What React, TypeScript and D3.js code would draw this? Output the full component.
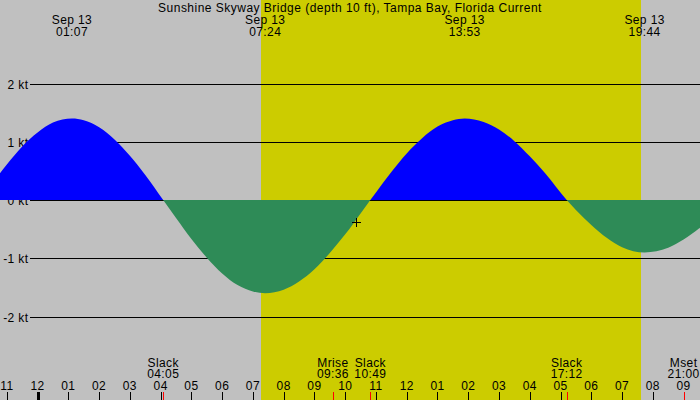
import * as d3 from 'd3';
import React, { useEffect, useRef } from 'react';

const title = 'Sunshine Skyway Bridge (depth 10 ft), Tampa Bay, Florida Current';

// max flood / max ebb, labelled along the top
const extremeDate = 'Sep 13';
const extremeTimes = ['01:07', '07:24', '13:53', '19:44'];

// slack water and moon events, labelled along the bottom
const eventNames = ['Slack', 'Mrise', 'Slack', 'Slack', 'Mset'];
const eventTimes = ['04:05', '09:36', '10:49', '17:12', '21:00'];

// daylight band
const sunrise = '07:16';
const sunset = '19:37';

// hour axis (hours from midnight Sep 13, -1 = 11 pm the day before)
const hourTicks = [-1, 0, 1, 2, 3, 4, 5, 6, 7, 8, 9, 10, 11, 12, 13, 14, 15, 16, 17, 18, 19, 20, 21];
const hourLabels = ['11', '12', '01', '02', '03', '04', '05', '06', '07', '08', '09', '10',
  '11', '12', '01', '02', '03', '04', '05', '06', '07', '08', '09'];

const knotTicks = [2, 1, 0, -1, -2];

// current speed (hours, knots)
const flowHours = [-1.5, -1, -0.5, 0, 0.5, 1.117, 1.5, 2, 2.5, 3, 3.5, 4.083, 4.5, 5, 5.5, 6, 6.5, 7,
  7.4, 8, 8.5, 9, 9.5, 10, 10.5, 10.817, 11, 11.5, 12, 12.5, 13, 13.5, 13.883, 14.5, 15, 15.5, 16,
  16.5, 17.2, 17.5, 18, 18.5, 19, 19.733, 20.5, 21, 21.5, 22];
const flowKnots = [0.26, 0.61, 0.92, 1.16, 1.33, 1.40, 1.37, 1.25, 1.04, 0.76, 0.43, 0, -0.31, -0.67,
  -0.99, -1.26, -1.46, -1.57, -1.60, -1.54, -1.40, -1.19, -0.91, -0.59, -0.23, 0, 0.13, 0.48, 0.80,
  1.06, 1.26, 1.37, 1.40, 1.34, 1.21, 1.01, 0.75, 0.46, 0, -0.17, -0.43, -0.65, -0.81, -0.90, -0.82,
  -0.68, -0.49, -0.27];

// "now" marker
const markTime = '10:21';
const markKnots = -0.37;

const toHours = (t: string) => {
  const [h, m] = t.split(':').map(Number);
  return h + m / 60;
};

const App: React.FC = () => {
  const svgRef = useRef<SVGSVGElement>(null);
  const width = 700;
  const height = 400;

  useEffect(() => {
    if (!svgRef.current) return;
    const svg = d3.select(svgRef.current);
    svg.selectAll('*').remove();

    const font = "'Liberation Sans', Arial, sans-serif";
    const spacing = '0.4px';

    const x = d3.scaleLinear().domain([-1.2224, 21.534]).range([0, width]);
    const y = d3.scaleLinear().domain([-2, 2]).range([316.5, 83.5]);
    const y0 = y(0);

    // night / day background
    svg.append('rect').attr('width', width).attr('height', height).attr('fill', '#c0c0c0');
    svg.append('rect')
      .attr('x', Math.round(x(toHours(sunrise))))
      .attr('width', Math.round(x(toHours(sunset))) - Math.round(x(toHours(sunrise))))
      .attr('y', 0)
      .attr('height', height)
      .attr('fill', '#cccc00');

    // knot grid lines
    svg.append('g').selectAll('line')
      .data(knotTicks)
      .join('line')
      .attr('x1', 30)
      .attr('x2', width)
      .attr('y1', d => Math.round(y(d)) + 0.5)
      .attr('y2', d => Math.round(y(d)) + 0.5)
      .attr('stroke', '#000')
      .attr('stroke-width', 1)
      .attr('shape-rendering', 'crispEdges');

    svg.append('g').selectAll('text')
      .data(knotTicks)
      .join('text')
      .attr('x', 28.5)
      .attr('y', d => Math.round(y(d)) + 4.5)
      .attr('text-anchor', 'end')
      .attr('font-family', font)
      .attr('font-size', '12px')
      .attr('letter-spacing', spacing)
      .attr('fill', '#000')
      .text(d => `${d} kt`);

    // flood / ebb fills
    const defs = svg.append('defs');
    defs.append('clipPath').attr('id', 'flood-clip')
      .append('rect').attr('x', 0).attr('y', 0).attr('width', width).attr('height', y0);
    defs.append('clipPath').attr('id', 'ebb-clip')
      .append('rect').attr('x', 0).attr('y', y0).attr('width', width).attr('height', height - y0);

    const flow = flowHours.map((h, i) => [h, flowKnots[i]] as [number, number]);
    const area = d3.area<[number, number]>()
      .x(d => x(d[0]))
      .y0(y0)
      .y1(d => y(d[1]))
      .curve(d3.curveMonotoneX);

    svg.append('path').attr('d', area(flow)).attr('fill', '#0000ff').attr('clip-path', 'url(#flood-clip)');
    svg.append('path').attr('d', area(flow)).attr('fill', '#2e8b57').attr('clip-path', 'url(#ebb-clip)');

    // now marker
    const mx = Math.round(x(toHours(markTime))) + 0.5;
    const my = Math.round(y(markKnots)) + 0.5;
    svg.append('path')
      .attr('d', `M${mx - 4.5},${my}H${mx + 4.5}M${mx},${my - 4.5}V${my + 4.5}`)
      .attr('stroke', '#000')
      .attr('stroke-width', 1)
      .attr('shape-rendering', 'crispEdges');

    // title and extremes
    svg.append('text')
      .attr('x', width / 2)
      .attr('y', 11.5)
      .attr('text-anchor', 'middle')
      .attr('font-family', font)
      .attr('font-size', '12px')
      .attr('letter-spacing', '0.48px')
      .attr('fill', '#000')
      .text(title);

    const top = svg.append('g').selectAll('g')
      .data(extremeTimes)
      .join('g')
      .attr('transform', d => `translate(${x(toHours(d))},0)`);
    top.append('text').attr('y', 23.7).text(extremeDate);
    top.append('text').attr('y', 35.7).text(d => d);
    top.selectAll('text')
      .attr('text-anchor', 'middle')
      .attr('font-family', font)
      .attr('font-size', '12px')
      .attr('letter-spacing', spacing)
      .attr('fill', '#000');

    // hour axis
    svg.append('g').selectAll('line')
      .data(hourTicks)
      .join('line')
      .attr('x1', d => Math.round(x(d)) + 0.5)
      .attr('x2', d => Math.round(x(d)) + 0.5)
      .attr('y1', 392)
      .attr('y2', height)
      .attr('stroke', '#000')
      .attr('stroke-width', d => (d === 0 ? 3 : 1))
      .attr('shape-rendering', 'crispEdges');

    svg.append('g').selectAll('text')
      .data(hourTicks)
      .join('text')
      .attr('x', d => x(d))
      .attr('y', 390)
      .attr('text-anchor', 'middle')
      .attr('font-family', font)
      .attr('font-size', '12px')
      .attr('letter-spacing', spacing)
      .attr('fill', '#000')
      .text((d, i) => hourLabels[i]);

    // events
    svg.append('g').selectAll('line')
      .data(eventTimes)
      .join('line')
      .attr('x1', d => Math.round(x(toHours(d))) + 0.5)
      .attr('x2', d => Math.round(x(toHours(d))) + 0.5)
      .attr('y1', 392)
      .attr('y2', height)
      .attr('stroke', '#ff0000')
      .attr('stroke-width', 1)
      .attr('shape-rendering', 'crispEdges');

    const ev = svg.append('g').selectAll('g')
      .data(eventTimes)
      .join('g')
      .attr('transform', d => `translate(${x(toHours(d))},0)`);
    ev.append('text').attr('y', 366.7).text((d, i) => eventNames[i]);
    ev.append('text').attr('y', 378).text(d => d);
    ev.selectAll('text')
      .attr('text-anchor', 'middle')
      .attr('font-family', font)
      .attr('font-size', '12px')
      .attr('letter-spacing', spacing)
      .attr('fill', '#000');
  }, []);

  return (
    <svg
      ref={svgRef}
      width={width}
      height={height}
      style={{ position: 'absolute', left: 0, top: 0, display: 'block' }}
    />
  );
};

export default App;
